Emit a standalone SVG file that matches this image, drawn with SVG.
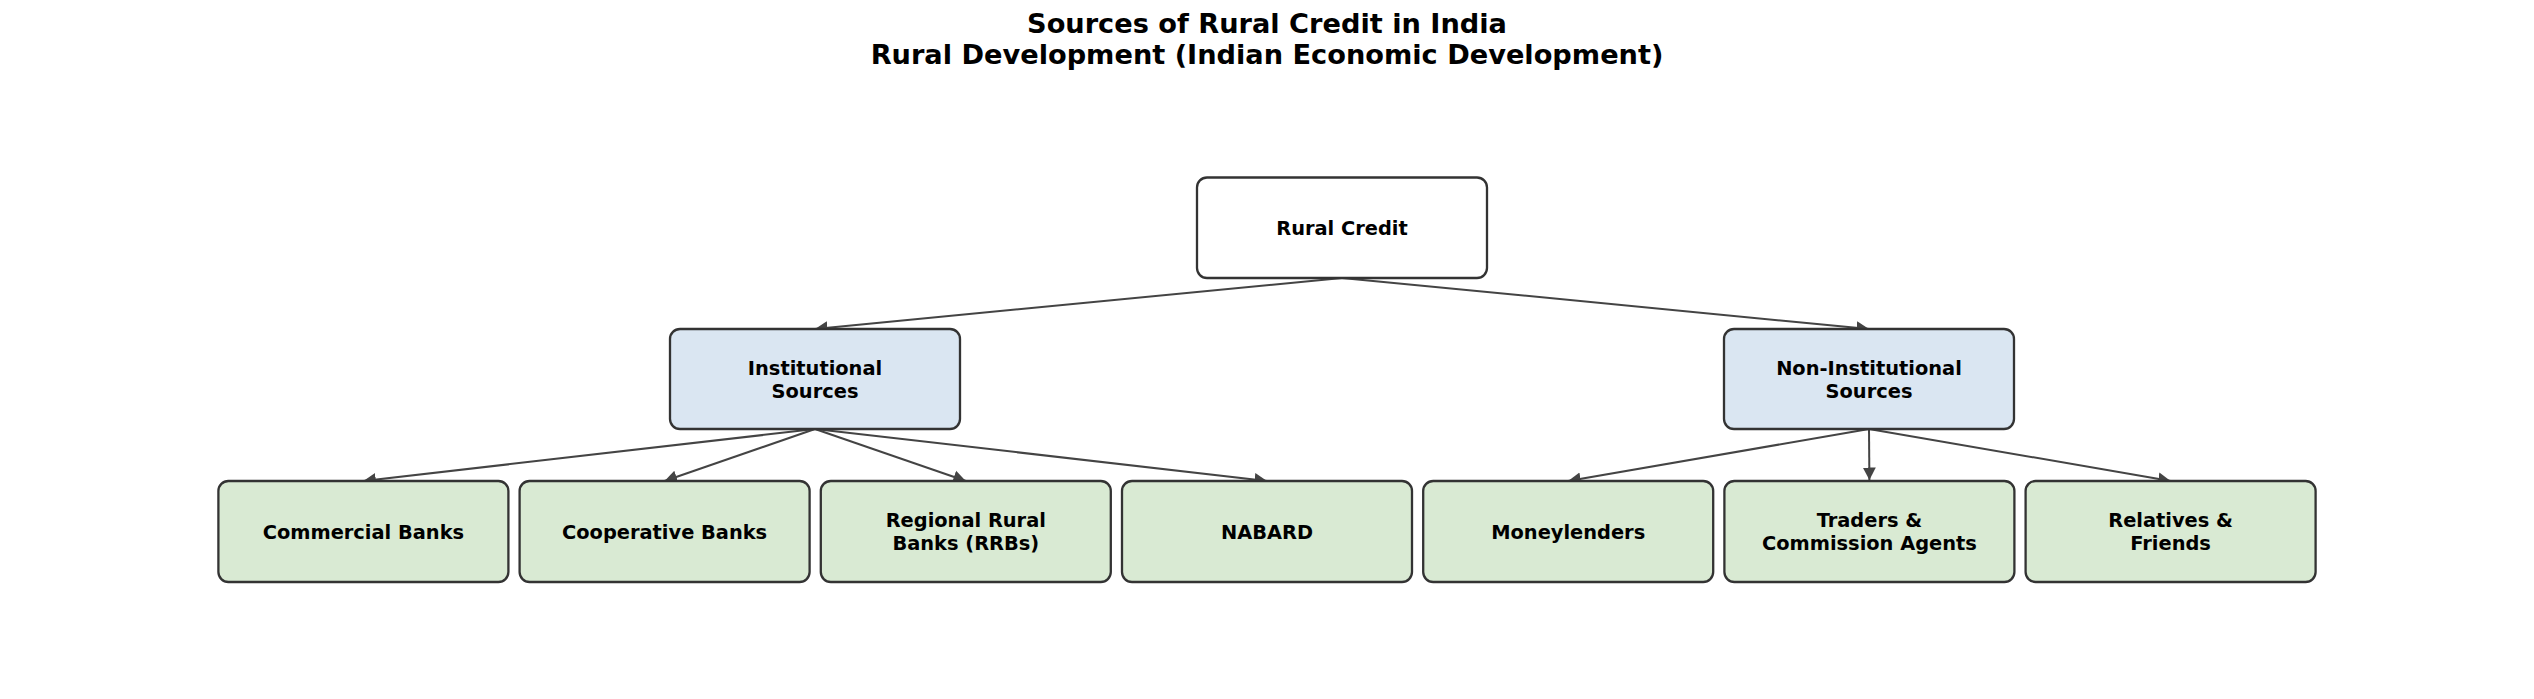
<svg xmlns="http://www.w3.org/2000/svg" width="2534" height="699" viewBox="0 0 2534 699">
<style>
text{font-family:"DejaVu Sans","Liberation Sans",sans-serif;font-weight:bold;fill:#000;text-anchor:middle}
.title{font-size:27.2px}
.lbl{font-size:19.4px}
.box{stroke:#333;stroke-width:2.3}
.root{fill:#ffffff}
.mid{fill:#dae6f2}
.leaf{fill:#d9ead3}
.edge{stroke:#444;stroke-width:2;fill:none;marker-end:url(#ah)}
</style>
<defs>
<marker id="ah" markerUnits="userSpaceOnUse" markerWidth="14" markerHeight="14" refX="12.5" refY="6.5" orient="auto" viewBox="0 0 14 13">
<path d="M0,0 L12.5,6.5 L0,13 z" fill="#444"/>
</marker>
</defs>
<rect width="2534" height="699" fill="#ffffff"/>
<g id="title">
<text class="title" x="1267" y="33">Sources of Rural Credit in India</text>
<text class="title" x="1267" y="63.5">Rural Development (Indian Economic Development)</text>
</g>
<g id="connectors">
<line class="edge" x1="1342" y1="278" x2="815" y2="329"/>
<line class="edge" x1="1342" y1="278" x2="1869" y2="329"/>
<line class="edge" x1="815" y1="429" x2="363.4" y2="481"/>
<line class="edge" x1="815" y1="429" x2="664.6" y2="481"/>
<line class="edge" x1="815" y1="429" x2="965.8" y2="481"/>
<line class="edge" x1="815" y1="429" x2="1267" y2="481"/>
<line class="edge" x1="1869" y1="429" x2="1568.2" y2="481"/>
<line class="edge" x1="1869" y1="429" x2="1869.4" y2="480"/>
<line class="edge" x1="1869" y1="429" x2="2170.6" y2="481"/>
</g>
<g id="node-rural-credit">
<rect class="box root" x="1197" y="177.5" width="290" height="100.5" rx="10"/>
<text class="lbl" x="1342" y="235">Rural Credit</text>
</g>
<g id="node-institutional">
<rect class="box mid" x="670" y="329" width="290" height="100" rx="10"/>
<text class="lbl" x="815" y="375">Institutional</text>
<text class="lbl" x="815" y="397.5">Sources</text>
</g>
<g id="node-non-institutional">
<rect class="box mid" x="1724" y="329" width="290" height="100" rx="10"/>
<text class="lbl" x="1869" y="375">Non-Institutional</text>
<text class="lbl" x="1869" y="397.5">Sources</text>
</g>
<g id="node-commercial-banks">
<rect class="box leaf" x="218.4" y="481" width="290" height="101" rx="10"/>
<text class="lbl" x="363.4" y="538.5">Commercial Banks</text>
</g>
<g id="node-cooperative-banks">
<rect class="box leaf" x="519.6" y="481" width="290" height="101" rx="10"/>
<text class="lbl" x="664.6" y="538.5">Cooperative Banks</text>
</g>
<g id="node-rrbs">
<rect class="box leaf" x="820.8" y="481" width="290" height="101" rx="10"/>
<text class="lbl" x="965.8" y="527.3">Regional Rural</text>
<text class="lbl" x="965.8" y="549.8">Banks (RRBs)</text>
</g>
<g id="node-nabard">
<rect class="box leaf" x="1122" y="481" width="290" height="101" rx="10"/>
<text class="lbl" x="1267" y="538.5">NABARD</text>
</g>
<g id="node-moneylenders">
<rect class="box leaf" x="1423.2" y="481" width="290" height="101" rx="10"/>
<text class="lbl" x="1568.2" y="538.5">Moneylenders</text>
</g>
<g id="node-traders">
<rect class="box leaf" x="1724.4" y="481" width="290" height="101" rx="10"/>
<text class="lbl" x="1869.4" y="527.3">Traders &amp;</text>
<text class="lbl" x="1869.4" y="549.8">Commission Agents</text>
</g>
<g id="node-relatives">
<rect class="box leaf" x="2025.6" y="481" width="290" height="101" rx="10"/>
<text class="lbl" x="2170.6" y="527.3">Relatives &amp;</text>
<text class="lbl" x="2170.6" y="549.8">Friends</text>
</g>
</svg>
